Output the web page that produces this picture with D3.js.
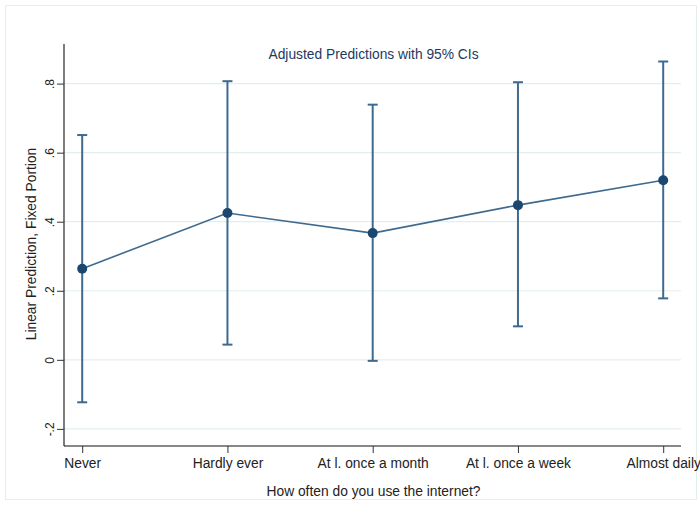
<!DOCTYPE html>
<html>
<head>
<meta charset="utf-8">
<script src="https://cdn.jsdelivr.net/npm/d3@7"></script>
<style>
  html, body { margin: 0; padding: 0; background: #fff; }
  svg { display: block; font-family: "Liberation Sans", Arial, sans-serif; }
</style>
</head>
<body>
<svg id="chart" width="700" height="506"></svg>
<script>
// Internet use categories and adjusted predictions with 95% CIs
const categories = ["Never", "Hardly ever", "At l. once a month", "At l. once a week", "Almost daily"];
const predicted  = [0.264, 0.425, 0.367, 0.448, 0.520];
const ciLower    = [-0.123, 0.044, -0.003, 0.097, 0.178];
const ciUpper    = [0.651, 0.807, 0.739, 0.804, 0.864];
const yTicks     = [-0.2, 0, 0.2, 0.4, 0.6, 0.8];
const yTickLabels = ["-.2", "0", ".2", ".4", ".6", ".8"];

const svg = d3.select("#chart");
const plot = { left: 64, right: 681, top: 44, bottom: 446 };

const lineColor = "#3e6a90";
const markerColor = "#1a476f";
const gridColor = "#e3eef0";
const textColor = "#222";

// outer frame
svg.append("rect")
  .attr("x", 5.5).attr("y", 5.5).attr("width", 691).attr("height", 494)
  .attr("fill", "#fff").attr("stroke", "#e4eeee").attr("stroke-width", 1);

const y = d3.scaleLinear().domain([-0.2496, 0.9147]).range([plot.bottom, plot.top]);
const x = d3.scalePoint().domain(categories).range([82.2, 663.2]);

// horizontal gridlines
svg.append("g").selectAll("line").data(yTicks).join("line")
  .attr("x1", plot.left).attr("x2", plot.right)
  .attr("y1", d => y(d)).attr("y2", d => y(d))
  .attr("stroke", gridColor).attr("stroke-width", 1.2);

// y axis
const yAxis = svg.append("g")
  .attr("transform", `translate(${plot.left},0)`)
  .call(d3.axisLeft(y).tickValues(yTicks).tickSize(7).tickSizeOuter(0)
    .tickFormat((d, i) => yTickLabels[i]));
yAxis.select(".domain").attr("stroke", "#111").attr("stroke-width", 1.1)
  .attr("d", `M0,${plot.top}V${plot.bottom}`);
yAxis.selectAll(".tick line").attr("stroke", "#333");
yAxis.selectAll(".tick text")
  .attr("fill", textColor).attr("font-size", 12)
  .attr("x", null)
  .attr("text-anchor", "middle")
  .attr("transform", "translate(-14,0) rotate(-90)")
  .attr("dy", "0.35em");

// x axis
const xAxis = svg.append("g")
  .attr("transform", `translate(0,${plot.bottom})`)
  .call(d3.axisBottom(x).tickSize(7).tickSizeOuter(0));
xAxis.select(".domain").attr("stroke", "#111").attr("stroke-width", 1.1)
  .attr("d", `M${plot.left},0H${plot.right}`);
xAxis.selectAll(".tick line").attr("stroke", "#333");
xAxis.selectAll(".tick text")
  .attr("fill", textColor).attr("font-size", 13.8).attr("y", 12);

// axis titles
svg.append("text")
  .attr("transform", `translate(36,${(plot.top + plot.bottom) / 2 - 1}) rotate(-90)`)
  .attr("text-anchor", "middle").attr("font-size", 13.8).attr("fill", textColor)
  .text("Linear Prediction, Fixed Portion");
svg.append("text")
  .attr("x", (plot.left + plot.right) / 2 + 1).attr("y", 496)
  .attr("text-anchor", "middle").attr("font-size", 13.8).attr("fill", textColor)
  .text("How often do you use the internet?");

// title
svg.append("text")
  .attr("x", (plot.left + plot.right) / 2 + 1).attr("y", 59)
  .attr("text-anchor", "middle").attr("font-size", 13.8).attr("fill", "#1e3a5f")
  .text("Adjusted Predictions with 95% CIs");

const data = categories.map((c, i) => ({ c, p: predicted[i], lo: ciLower[i], hi: ciUpper[i] }));

// confidence intervals
const ci = svg.append("g").attr("stroke", lineColor).attr("stroke-width", 2).attr("fill", "none");
ci.selectAll("line.v").data(data).join("line").attr("class", "v")
  .attr("x1", d => x(d.c)).attr("x2", d => x(d.c))
  .attr("y1", d => y(d.lo)).attr("y2", d => y(d.hi));
ci.selectAll("line.t").data(data).join("line").attr("class", "t")
  .attr("x1", d => x(d.c) - 5).attr("x2", d => x(d.c) + 5)
  .attr("y1", d => y(d.hi)).attr("y2", d => y(d.hi));
ci.selectAll("line.b").data(data).join("line").attr("class", "b")
  .attr("x1", d => x(d.c) - 5).attr("x2", d => x(d.c) + 5)
  .attr("y1", d => y(d.lo)).attr("y2", d => y(d.lo));

// connecting line
svg.append("path").datum(data)
  .attr("fill", "none").attr("stroke", lineColor).attr("stroke-width", 1.6)
  .attr("d", d3.line().x(d => x(d.c)).y(d => y(d.p)));

// markers
svg.append("g").selectAll("circle").data(data).join("circle")
  .attr("cx", d => x(d.c)).attr("cy", d => y(d.p)).attr("r", 5)
  .attr("fill", markerColor);
</script>
</body>
</html>
